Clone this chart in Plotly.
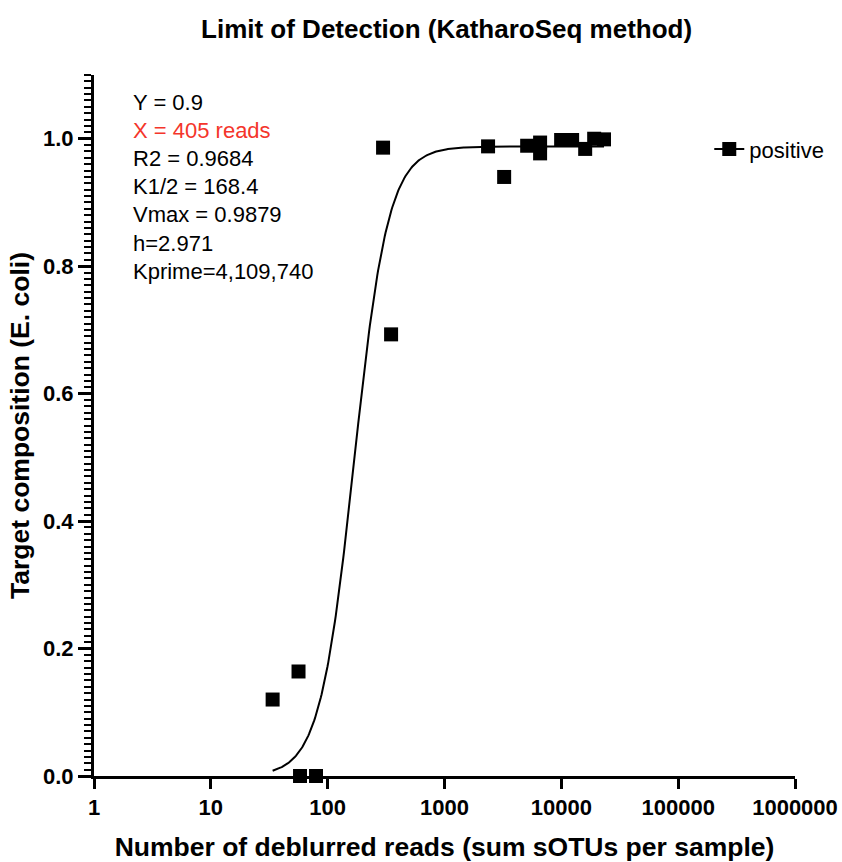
import numpy as np
import plotly.graph_objects as go

# ---- data ----
reads = [33.8, 56.3, 58, 79.5, 298, 349, 2360, 3240, 5100, 6580, 6580,
         9960, 12370, 16000, 19100, 23200]
composition = [0.120, 0.164, 0.0, 0.0, 0.986, 0.693, 0.988, 0.940, 0.989,
               0.994, 0.977, 0.998, 0.998, 0.984, 1.000, 0.999]

x_tick_values = [1, 10, 100, 1000, 10000, 100000, 1000000]
x_tick_labels = ["1", "10", "100", "1000", "10000", "100000", "1000000"]
y_tick_values = [0.0, 0.2, 0.4, 0.6, 0.8, 1.0]
y_tick_labels = ["0.0", "0.2", "0.4", "0.6", "0.8", "1.0"]

# Hill fit parameters shown on the chart
fit_vmax = 0.9879
fit_k_half = 168.4
fit_h = 2.971

stats_lines = ["Y = 0.9", "X = 405 reads", "R2 = 0.9684", "K1/2 = 168.4",
               "Vmax = 0.9879", "h=2.971", "Kprime=4,109,740"]
stats_colors = ["black", "#f4352b", "black", "black", "black", "black", "black"]

# ---- fitted curve from the displayed parameters ----
curve_x = np.geomspace(min(reads), max(reads), 400)
curve_y = fit_vmax * curve_x ** fit_h / (fit_k_half ** fit_h + curve_x ** fit_h)

FONT = "Liberation Sans, Arial, Helvetica, sans-serif"

fig = go.Figure()
fig.add_trace(go.Scatter(x=curve_x, y=curve_y, mode="lines",
                         line=dict(color="black", width=2),
                         showlegend=False, hoverinfo="skip"))
fig.add_trace(go.Scatter(x=reads, y=composition, mode="markers",
                         marker=dict(symbol="square", size=14, color="black",
                                     line=dict(width=0)),
                         cliponaxis=False, showlegend=False))
# legend entry (line + square) for the "positive" series
fig.add_trace(go.Scatter(x=[None], y=[None], mode="lines+markers", name="positive",
                         line=dict(color="black", width=2),
                         marker=dict(symbol="square", size=14, color="black")))

# stats text block
top_px, step_px, plot_top, plot_bottom = 102, 28.2, 75, 776
for i, (txt, col) in enumerate(zip(stats_lines, stats_colors)):
    ypix = top_px + i * step_px
    fig.add_annotation(text=txt, xref="paper", yref="paper",
                       x=(131 - 94) / 701, y=(plot_bottom - ypix) / (plot_bottom - plot_top),
                       xanchor="left", yanchor="middle", showarrow=False,
                       font=dict(family=FONT, size=22, color=col))

fig.update_layout(
    width=842, height=862,
    margin=dict(l=94, r=47, t=75, b=86),
    plot_bgcolor="white", paper_bgcolor="white",
    font=dict(family=FONT, size=22, color="black"),
    title=dict(text="Limit of Detection (KatharoSeq method)",
               x=0.503, xref="paper", xanchor="center",
               y=1 - 29 / 862, yref="container", yanchor="middle",
               font=dict(family=FONT, size=26, color="black", weight="bold")),
    legend=dict(x=0.8777, y=0.894, xanchor="left", yanchor="middle",
                bgcolor="rgba(0,0,0,0)", itemwidth=30,
                font=dict(family=FONT, size=22, color="black")),
)

fig.update_xaxes(type="log", range=[0, 6],
                 tickvals=x_tick_values, ticktext=x_tick_labels,
                 ticks="outside", ticklen=10, tickwidth=3, tickcolor="black",
                 showline=True, linewidth=3, linecolor="black",
                 showgrid=False, zeroline=False, automargin=False,
                 tickfont=dict(family=FONT, size=22, color="black", weight="bold"),
                 title=dict(text="Number of deblurred reads (sum sOTUs per sample)",
                            standoff=20,
                            font=dict(family=FONT, size=26.5, color="black", weight="bold")))
fig.update_yaxes(range=[0, 1.1],
                 tickvals=y_tick_values, ticktext=y_tick_labels,
                 ticks="outside", ticklen=13, tickwidth=3, tickcolor="black",
                 minor=dict(dtick=0.01, tick0=0, ticks="outside", ticklen=7,
                            tickwidth=2, tickcolor="black", showgrid=False),
                 showline=True, linewidth=3, linecolor="black",
                 showgrid=False, zeroline=False, automargin=False,
                 tickfont=dict(family=FONT, size=22, color="black", weight="bold"),
                 title=dict(text="Target composition (E. coli)", standoff=6,
                            font=dict(family=FONT, size=26.5, color="black", weight="bold")))

fig.write_html("out.html")
